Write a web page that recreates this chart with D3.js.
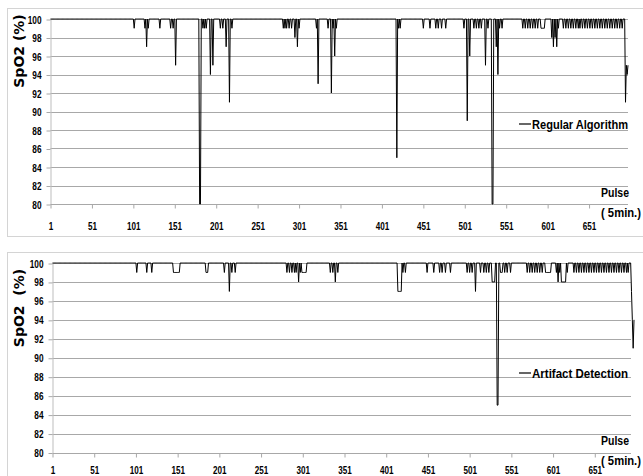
<!DOCTYPE html>
<html>
<head>
<meta charset="utf-8">
<script src="https://cdn.jsdelivr.net/npm/d3@7"></script>
<style>
  body { margin: 0; background: #fff; }
  svg { display: block; }
  .tick text { font-family: "Liberation Sans", Arial, sans-serif; font-weight: bold; font-size: 11px; fill: #000; }
  .lbl { font-family: "Liberation Sans", Arial, sans-serif; font-weight: bold; fill: #000; }
</style>
</head>
<body>
<svg id="chart" width="643" height="476"></svg>
<script>
// number of pulses recorded (x categories)
var pulseCount = 698;

// y ticks and x tick labels
var yTicks = [80, 82, 84, 86, 88, 90, 92, 94, 96, 98, 100];
var xTickLabels = [1, 51, 101, 151, 201, 251, 301, 351, 401, 451, 501, 551, 601, 651];

// SpO2 baseline is 100 %, these are the pulses where it drops: [pulse, SpO2]
var regularDips = [
    [102, 99], [115, 99], [117, 97], [119, 99], [133, 99], [146, 99], [149, 99], [152, 95],
    [181, 80], [182, 80], [185, 99], [187, 99], [189, 99], [194, 94], [197, 95], [206, 99], [209, 99], [213, 97], [217, 91], [220, 99],
    [282, 99], [284, 99], [286, 99], [289, 99], [292, 99], [296, 98], [299, 97], [301, 99],
    [322, 99], [324, 93], [336, 99], [340, 92], [342, 99], [344, 96], [346, 99],
    [419, 85], [421, 99], [423, 99],
    [451, 99], [459, 99], [466, 99], [469, 99], [473, 99], [478, 99],
    [500, 99], [504, 89], [507, 96], [512, 99], [515, 99], [518, 99], [521, 99], [526, 95], [529, 99], [534, 80], [535, 80], [539, 97], [541, 94], [543, 99], [546, 99],
    [571, 99], [574, 99], [577, 99], [580, 99], [583, 99], [586, 99], [589, 99], [593, 99], [594, 99], [595, 99], [596, 99], [597, 99],
    [606, 98], [608, 97], [610, 98], [612, 97], [614, 99],
    [620, 99], [623, 99], [626, 99], [629, 99], [632, 99], [635, 99], [638, 99], [640, 99], [643, 99], [646, 99], [649, 99], [652, 99],
    [655, 99], [658, 99], [661, 99], [664, 99], [667, 99], [670, 99], [673, 99], [676, 99], [679, 99], [682, 99], [685, 99], [688, 99], [691, 99],
    [695, 91], [696, 95], [697, 94], [698, 95]
];

var artifactDips = [
    [102, 99], [114, 99], [120, 99], [146, 99], [147, 99], [148, 99], [149, 99], [150, 99], [151, 99], [152, 99], [153, 99],
    [185, 99], [186, 99], [187, 99], [207, 99], [213, 97], [216, 99], [220, 99],
    [282, 99], [285, 99], [288, 99], [291, 99], [293, 99], [296, 98], [298, 99], [300, 99], [301, 99], [302, 99], [303, 99], [304, 99], [305, 99],
    [334, 99], [337, 99], [340, 98], [343, 99],
    [415, 97], [416, 97], [417, 97], [418, 97], [419, 97], [421, 99], [424, 99],
    [450, 99], [458, 99], [465, 99], [468, 99], [472, 99], [478, 99],
    [498, 99], [501, 99], [504, 99], [508, 97], [514, 99], [518, 99], [521, 99], [524, 99], [528, 98], [529, 98], [530, 98], [531, 98],
    [534, 85], [535, 85], [538, 99], [539, 99], [540, 99], [543, 99], [546, 99], [550, 99],
    [570, 99], [573, 99], [576, 99], [579, 99], [582, 99], [585, 99], [588, 99], [592, 99], [593, 99], [594, 99], [595, 99], [596, 99], [597, 99], [598, 99],
    [605, 99], [607, 98], [609, 99], [611, 98], [612, 98], [613, 98], [614, 98], [615, 98], [616, 98], [618, 99],
    [626, 99], [629, 99], [632, 99], [635, 99], [638, 99], [641, 99], [644, 99], [647, 99], [650, 99], [653, 99], [656, 99], [659, 99],
    [662, 99], [665, 99], [668, 99], [671, 99], [674, 99], [677, 99], [680, 99], [683, 99], [686, 99], [689, 99], [691, 99],
    [695, 97], [696, 94], [697, 91], [698, 94]
];

function buildSeries(dips) {
    var lookup = new Map(dips);
    var out = [];
    for (var p = 1; p <= pulseCount; p++) out.push({ pulse: p, spo2: lookup.has(p) ? lookup.get(p) : 100 });
    return out;
}

var svg = d3.select("#chart");

// narrow bold labels (the original uses a condensed face)
function squeeze(sel, perChar) {
    sel.attr("textLength", function () { return this.textContent.length * perChar; })
        .attr("lengthAdjust", "spacingAndGlyphs");
}

function drawPanel(cfg) {
    var g = svg.append("g");

    // chart area frame
    g.append("rect")
        .attr("x", 7.5).attr("y", cfg.frameTop + 0.5)
        .attr("width", 700).attr("height", cfg.frameH)
        .attr("fill", "#fff").attr("stroke", "#d4d4d4");

    var x = d3.scaleLinear().domain([1, pulseCount]).range([cfg.left, cfg.right]);
    var y = d3.scaleLinear().domain([80, 100]).range([cfg.bottom, cfg.top]);

    // gridlines
    g.append("g").selectAll("line")
        .data(yTicks.slice(1))
        .enter().append("line")
        .attr("x1", cfg.left).attr("x2", cfg.gridRight)
        .attr("y1", function (d) { return Math.round(y(d)) + 0.5; })
        .attr("y2", function (d) { return Math.round(y(d)) + 0.5; })
        .attr("stroke", "#a8a8a8");

    var yAxis = g.append("g")
        .attr("transform", "translate(" + cfg.left + ",0.5)")
        .call(d3.axisLeft(y).tickValues(yTicks).tickSizeInner(4).tickSizeOuter(0).tickPadding(5));
    yAxis.select(".domain").attr("stroke", "#bdbdbd");
    yAxis.selectAll(".tick line").attr("stroke", "#a8a8a8");
    squeeze(yAxis.selectAll(".tick text"), 4.6);

    var xAxis = g.append("g")
        .attr("transform", "translate(0," + (Math.round(cfg.bottom) + 0.5) + ")")
        .call(d3.axisBottom(x).tickValues(xTickLabels).tickSizeInner(4).tickSizeOuter(0).tickPadding(cfg.xPad));
    xAxis.select(".domain").attr("stroke", "#a8a8a8").attr("d", "M" + cfg.left + ",0H" + cfg.gridRight);
    xAxis.selectAll(".tick line").attr("stroke", "#a8a8a8");
    squeeze(xAxis.selectAll(".tick text"), 4.5);

    var line = d3.line()
        .x(function (d) { return x(d.pulse); })
        .y(function (d) { return y(d.spo2); });

    g.append("path")
        .datum(buildSeries(cfg.dips))
        .attr("fill", "none")
        .attr("stroke", "#000")
        .attr("stroke-width", 1)
        .attr("d", line);

    // y title
    g.append("text")
        .attr("transform", "translate(24," + cfg.titleY + ")rotate(-90)")
        .attr("text-anchor", "middle")
        .attr("font-family", "DejaVu Sans, sans-serif")
        .attr("font-weight", "bold")
        .attr("font-size", 14)
        .attr("xml:space", "preserve")
        .text(cfg.title);

    // legend
    g.append("line")
        .attr("x1", 519).attr("x2", 531)
        .attr("y1", cfg.legendY).attr("y2", cfg.legendY)
        .attr("stroke", "#000").attr("stroke-width", 1.2);
    g.append("text").attr("class", "lbl")
        .attr("x", 532).attr("y", cfg.legendY).attr("dy", "0.35em")
        .attr("font-size", 13)
        .attr("textLength", 96).attr("lengthAdjust", "spacingAndGlyphs")
        .text(cfg.legend);

    g.append("text").attr("class", "lbl")
        .attr("x", 601).attr("y", cfg.pulseY).attr("dy", "0.35em")
        .attr("font-size", 13)
        .attr("textLength", 28).attr("lengthAdjust", "spacingAndGlyphs")
        .text("Pulse");
    g.append("text").attr("class", "lbl")
        .attr("x", 601).attr("y", cfg.pulseY + 20).attr("dy", "0.35em")
        .attr("font-size", 13)
        .attr("textLength", 40).attr("lengthAdjust", "spacingAndGlyphs")
        .text("( 5min.)");
}

drawPanel({
    frameTop: 8, frameH: 228,
    left: 50.5, right: 628, gridRight: 628,
    top: 19, bottom: 204, xPad: 14,
    dips: regularDips,
    title: "SpO2 (%)", titleY: 51,
    legend: "Regular Algorithm", legendY: 124,
    pulseY: 192
});

drawPanel({
    frameTop: 252, frameH: 300,
    left: 52.5, right: 634, gridRight: 631,
    top: 263, bottom: 452.5, xPad: 9,
    dips: artifactDips,
    title: "SpO2  (%)", titleY: 308,
    legend: "Artifact Detection", legendY: 373,
    pulseY: 440
});
</script>
</body>
</html>
